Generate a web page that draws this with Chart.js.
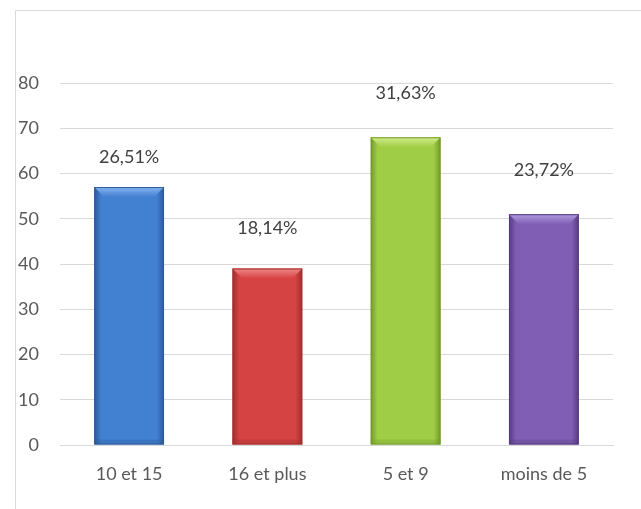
<!DOCTYPE html>
<html>
<head>
<meta charset="utf-8">
<script src="https://cdn.jsdelivr.net/npm/chart.js@4.4.1/dist/chart.umd.min.js"></script>
<style>
  html, body { margin: 0; padding: 0; background: #fff; }
  #wrap { position: relative; width: 641px; height: 509px; }
</style>
</head>
<body>
<div id="wrap"><canvas id="barChart" width="641" height="509"></canvas></div>
<script>
// ===============================
// DATA
// ===============================
const categories = ["10 et 15", "16 et plus", "5 et 9", "moins de 5"];
const counts = [57, 39, 68, 51];
const percentLabels = ["26,51%", "18,14%", "31,63%", "23,72%"];

// bar colours: [edge, middle, top bevel]
const barColors = [
    ["#2a5a98", "#4280d2", "#86b4f0"],
    ["#a02e2e", "#d64343", "#f08888"],
    ["#739a2c", "#a0cd46", "#d2ec8e"],
    ["#563a80", "#7f5eb3", "#b49ce0"]
];

// ===============================
// PLUGINS
// ===============================
const frame = {
    id: "frame",
    beforeDraw(chart) {
        const c = chart.ctx;
        c.save();
        c.strokeStyle = "#d9d9d9";
        c.lineWidth = 1;
        c.beginPath();
        c.moveTo(15.5, 509);
        c.lineTo(15.5, 10.5);
        c.lineTo(641, 10.5);
        c.stroke();
        c.restore();
    }
};

const bevel = {
    id: "bevel",
    afterDatasetsDraw(chart) {
        const c = chart.ctx;
        const meta = chart.getDatasetMeta(0);
        meta.data.forEach((bar, i) => {
            const col = barColors[i];
            const x0 = bar.x - bar.width / 2;
            const x1 = bar.x + bar.width / 2;
            const top = bar.y;
            const bottom = bar.base;
            const b = 10;

            c.save();
            // body gradient
            let g = c.createLinearGradient(x0, 0, x1, 0);
            g.addColorStop(0, col[0]);
            g.addColorStop(0.1, col[1]);
            g.addColorStop(0.9, col[1]);
            g.addColorStop(1, col[0]);
            c.fillStyle = g;
            c.fillRect(x0, top, x1 - x0, bottom - top);

            // top bevel
            g = c.createLinearGradient(0, top, 0, top + b);
            g.addColorStop(0, col[2]);
            g.addColorStop(1, col[1]);
            c.fillStyle = g;
            c.beginPath();
            c.moveTo(x0, top);
            c.lineTo(x1, top);
            c.lineTo(x1 - b, top + b);
            c.lineTo(x0 + b, top + b);
            c.closePath();
            c.fill();

            // bottom shade
            c.globalAlpha = 0.3;
            c.fillStyle = col[0];
            c.fillRect(x0, bottom - 5, x1 - x0, 5);
            c.globalAlpha = 1;

            // outline
            c.strokeStyle = col[0];
            c.lineWidth = 1;
            c.strokeRect(x0 + 0.5, top + 0.5, x1 - x0 - 1, bottom - top - 1);
            c.restore();
        });
    }
};

const pctLabels = {
    id: "pctLabels",
    afterDatasetsDraw(chart, args, opts) {
        const c = chart.ctx;
        const meta = chart.getDatasetMeta(0);
        c.save();
        c.font = "18px Lato, 'Open Sans', sans-serif";
        c.fillStyle = "#404040";
        c.textAlign = "center";
        c.textBaseline = "middle";
        meta.data.forEach((bar, i) => {
            c.fillText(percentLabels[i], bar.x, bar.y - opts.gaps[i]);
        });
        c.restore();
    }
};

// ===============================
// CHART
// ===============================
const ctx = document.getElementById("barChart").getContext("2d");

new Chart(ctx, {
    type: "bar",
    data: {
        labels: categories,
        datasets: [{
            data: counts,
            backgroundColor: "rgba(0,0,0,0)",
            borderWidth: 0,
            barPercentage: 0.505,
            categoryPercentage: 1
        }]
    },
    options: {
        responsive: false,
        animation: false,
        layout: { padding: { top: 83, right: 28, left: 0, bottom: 0 } },
        plugins: {
            legend: { display: false },
            tooltip: { enabled: false },
            pctLabels: { gaps: [30, 40, 44, 44] }
        },
        scales: {
            x: {
                grid: { display: false },
                border: { color: "#d9d9d9" },
                ticks: {
                    color: "#595959",
                    font: { family: "Lato, 'Open Sans', sans-serif", size: 18 },
                    padding: 10
                },
                afterFit(axis) { axis.height = 64; }
            },
            y: {
                min: 0,
                max: 80,
                ticks: {
                    stepSize: 10,
                    color: "#595959",
                    font: { family: "Lato, 'Open Sans', sans-serif", size: 18 },
                    padding: 21
                },
                grid: { color: "#d9d9d9", drawTicks: false },
                border: { display: false },
                afterFit(axis) { axis.width = 60; }
            }
        }
    },
    plugins: [frame, bevel, pctLabels]
});
</script>
</body>
</html>
